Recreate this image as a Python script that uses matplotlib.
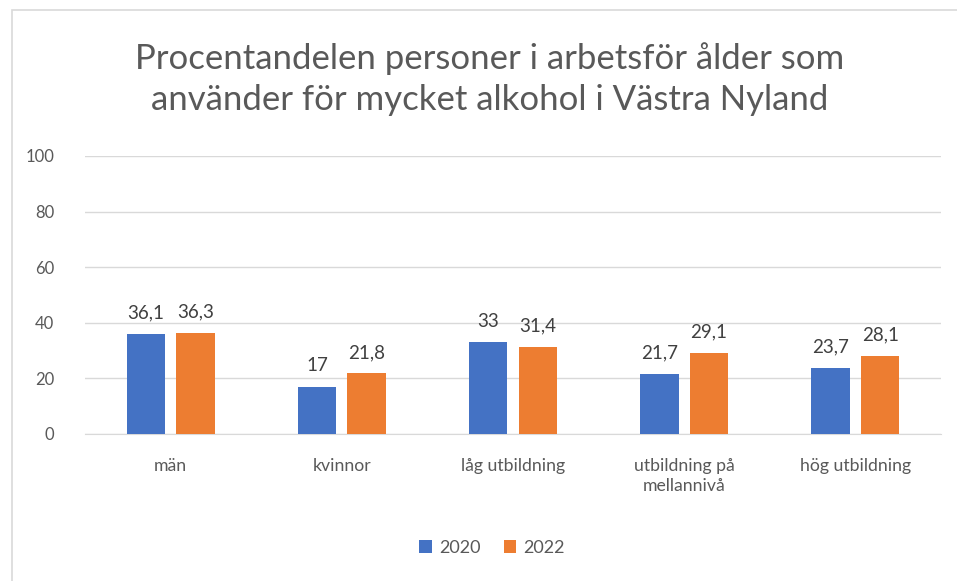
import matplotlib.pyplot as plt
import matplotlib.patches as mpatches
import numpy as np

plt.rcParams['font.family'] = ['Lato', 'DejaVu Sans']

categories = ['män', 'kvinnor', 'låg utbildning', 'utbildning på\nmellannivå', 'hög utbildning']
years = ['2020', '2022']
values_2020 = [36.1, 17, 33, 21.7, 23.7]
values_2022 = [36.3, 21.8, 31.4, 29.1, 28.1]
colors = ['#4472C4', '#ED7D31']

W, H = 957, 581
fig = plt.figure(figsize=(W / 100, H / 100), dpi=100)
# plot area in pixels: x 85..941, y 156..434
ax = fig.add_axes([85 / W, 1 - 434 / H, (941 - 85) / W, (434 - 156) / H])

# chart border
fig.patches.append(mpatches.Rectangle((12 / W, -0.1), 1.2, 1 - 10 / H + 0.1,
                                      transform=fig.transFigure, fill=False,
                                      edgecolor='#D9D9D9', linewidth=1.2))

x = np.arange(len(categories))
width = 0.225
offset = 0.145
b1 = ax.bar(x - offset, values_2020, width, color=colors[0], label=years[0], zorder=3)
b2 = ax.bar(x + offset, values_2022, width, color=colors[1], label=years[1], zorder=3)

for bars, vals in ((b1, values_2020), (b2, values_2022)):
    for b, v in zip(bars, vals):
        ax.text(b.get_x() + b.get_width() / 2, v + 4.5, f'{v:g}'.replace('.', ','),
                ha='center', va='bottom', fontsize=13.5, color='#404040')

ax.set_xlim(-0.5, len(categories) - 0.5)
ax.set_ylim(0, 100)
ax.set_yticks(range(0, 101, 20))
ax.yaxis.grid(True, color='#D9D9D9', linewidth=1, zorder=0)
ax.tick_params(axis='y', length=0, labelsize=12, labelcolor='#595959', pad=22)
ax.tick_params(axis='x', length=0, labelsize=12.7, labelcolor='#595959', pad=17)
ax.set_xticks(x)
ax.set_xticklabels(categories, linespacing=1.3, va='top')
for s in ['top', 'right', 'left']:
    ax.spines[s].set_visible(False)
ax.spines['bottom'].set_color('#D9D9D9')

fig.text(490 / W, 1 - 79 / H,
         'Procentandelen personer i arbetsför ålder som\nanvänder för mycket alkohol i Västra Nyland',
         ha='center', va='center', fontsize=25, color='#595959', linespacing=1.33)

fig.legend(handles=[b1, b2], labels=years, loc='center', bbox_to_anchor=(492 / W, 1 - 548 / H),
           ncol=2, frameon=False, fontsize=13, labelcolor='#595959',
           handlelength=0.7, handleheight=0.7, handletextpad=0.4, columnspacing=1.3)

plt.savefig('out.png', dpi=100)
